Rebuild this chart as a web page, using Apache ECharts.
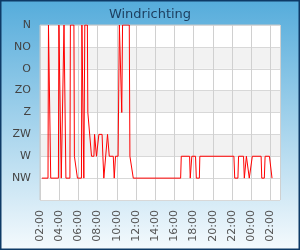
<!DOCTYPE html>
<html>
<head>
<meta charset="utf-8">
<script src="https://cdn.jsdelivr.net/npm/echarts@6/dist/echarts.min.js"></script>
<style>
html, body { margin: 0; padding: 0; }
#chart { width: 300px; height: 250px; }
</style>
</head>
<body>
<div id="chart"></div>
<script>
// windrichting per meting (tijd HH:MM, loopt door na middernacht)
var directions = ['NW', 'W', 'ZW', 'Z', 'ZO', 'O', 'NO', 'N'];

var times = ['02:12', '02:50', '02:53', '03:04', '03:07', '03:55', '03:58', '04:09', '04:13', '04:25',
    '04:30', '04:39', '04:42', '05:07', '05:10', '05:32', '05:35', '05:41', '05:54', '06:19',
    '06:22', '06:30', '06:34', '06:40', '06:56', '06:59', '07:07', '07:22', '07:37', '07:41',
    '07:49', '07:53', '08:05', '08:08', '08:28', '08:33', '08:39', '08:51', '09:02', '09:13',
    '09:38', '09:44', '09:52', '10:08', '10:16', '10:28', '10:31', '10:36', '11:18', '11:22',
    '11:30', '11:43', '16:39', '16:43', '17:35', '17:39', '17:46', '17:49', '18:12', '18:17',
    '18:36', '18:39', '22:12', '22:17', '22:37', '22:41', '23:12', '23:17', '23:27', '23:30',
    '23:42', '23:48', '23:55', '00:07', '01:02', '01:06', '01:22', '01:27', '01:54', '02:10'];

var windDir = ['NW', 'NW', 'N', 'N', 'NW', 'NW', 'N', 'N', 'NW', 'NW',
    'N', 'N', 'NW', 'NW', 'N', 'N', 'W', 'W', 'NW', 'NW',
    'N', 'N', 'NW', 'N', 'N', 'Z', 'Z', 'W', 'W', 'ZW',
    'ZW', 'W', 'W', 'ZW', 'ZW', 'W', 'NW', 'NW', 'ZW', 'W',
    'W', 'NW', 'W', 'W', 'N', 'N', 'Z', 'N', 'N', 'W',
    'W', 'NW', 'NW', 'W', 'W', 'NW', 'NW', 'W', 'W', 'NW',
    'NW', 'W', 'W', 'NW', 'NW', 'W', 'W', 'NW', 'NW', 'W',
    'W', 'NW', 'NW', 'W', 'W', 'NW', 'NW', 'W', 'W', 'NW'];

var xStart = 2;   // 02:00
var xEnd = 27;    // 03:00 volgende dag
var xStep = 2;

//--------------------------
function pad(n) {
    return (n < 10 ? '0' : '') + n;
}

var points = [];
var prev = -1, dayOffset = 0;
for (var i = 0; i < times.length; i++) {
    var p = times[i].split(':');
    var h = parseInt(p[0], 10) + parseInt(p[1], 10) / 60;
    if (h + dayOffset < prev) dayOffset += 24;
    prev = h + dayOffset;
    points.push([prev, directions.indexOf(windDir[i]) + 1]);
}

var myChart = echarts.init(document.getElementById('chart'));

var option = {
    animation: false,
    backgroundColor: new echarts.graphic.LinearGradient(0, 0, 0, 1, [{
        offset: 0,
        color: '#55acdb'
    }, {
        offset: 1,
        color: '#f5fafd'
    }]),
    textStyle: {
        fontFamily: 'DejaVu Sans'
    },
    title: {
        text: 'Windrichting',
        left: 'center',
        top: 3,
        textStyle: {
            color: '#1c3d5e',
            fontSize: 13,
            fontWeight: 'normal',
            fontFamily: 'DejaVu Sans'
        }
    },
    graphic: [{
        type: 'rect',
        silent: true,
        z: 100,
        shape: { x: 0, y: 0, width: 300, height: 250 },
        style: { fill: 'none', stroke: '#0e3a66', lineWidth: 3 }
    }],
    grid: {
        left: 40,
        right: 20,
        top: 25,
        bottom: 50,
        show: true,
        backgroundColor: '#fff',
        borderColor: '#c8c8c8',
        borderWidth: 1
    },
    xAxis: {
        type: 'value',
        min: xStart,
        max: xEnd,
        interval: xStep,
        axisLine: { show: false },
        axisTick: { show: false },
        axisLabel: {
            rotate: 90,
            margin: 10,
            fontSize: 11,
            color: '#555',
            showMaxLabel: false,
            formatter: function (v) {
                return pad(v % 24) + ':00';
            }
        },
        splitLine: {
            lineStyle: { color: '#d0d0d0' }
        }
    },
    yAxis: {
        type: 'value',
        min: 0,
        max: 8,
        interval: 1,
        axisLine: { show: false },
        axisTick: { show: false },
        axisLabel: {
            margin: 9,
            fontSize: 11,
            color: '#444',
            formatter: function (v) {
                return v > 0 ? directions[v - 1] : '';
            }
        },
        splitLine: {
            lineStyle: { color: '#d8d8d8' }
        },
        splitArea: {
            show: true,
            areaStyle: {
                color: ['#fff', '#fff', '#f2f2f2', '#fff', '#f2f2f2', '#fff', '#f2f2f2', '#fff']
            }
        }
    },
    series: [{
        name: 'Windrichting',
        type: 'line',
        symbol: 'none',
        lineStyle: { width: 1, color: '#ff0000' },
        itemStyle: { color: '#ff0000' },
        data: points
    }]
};
myChart.setOption(option);
</script>
</body>
</html>
